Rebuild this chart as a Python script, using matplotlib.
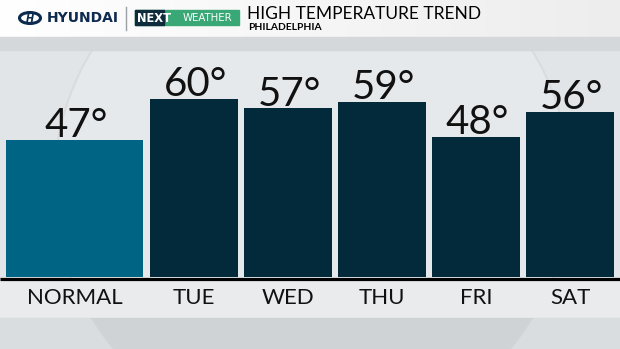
import matplotlib
matplotlib.use("Agg")
import matplotlib.pyplot as plt
from matplotlib.patches import Rectangle, Ellipse, Circle
import numpy as np

categories = ["NORMAL", "TUE", "WED", "THU", "FRI", "SAT"]
values = [47, 60, 57, 59, 48, 56]
value_labels = ["47°", "60°", "57°", "59°", "48°", "56°"]
title = "HIGH TEMPERATURE TREND"
subtitle = "PHILADELPHIA"

W, H = 620, 349
fig = plt.figure(figsize=(W / 100, H / 100), dpi=100)

# ---------- background / decoration axes (pixel coords) ----------
bg = fig.add_axes([0, 0, 1, 1])
bg.set_xlim(0, W)
bg.set_ylim(H, 0)
bg.axis("off")
bg.add_patch(Rectangle((0, 0), W, H, color="#e2e5e7", zorder=0))
# globe
bg.add_patch(Circle((312, 185), 258, facecolor="#e6e9eb", edgecolor="#d8dcde", lw=1.5, zorder=1))
# label band and lower band
bg.add_patch(Rectangle((0, 279), W, 39, color="#e9ebec", zorder=2))
bg.add_patch(Rectangle((0, 318), W, 31, color="#d9dddf", zorder=2))
lower_globe = Circle((312, 185), 258, facecolor="#cfd3d6", edgecolor="none", zorder=3)
bg.add_patch(lower_globe)
lower_globe.set_clip_path(Rectangle((0, 318), W, 31, transform=bg.transData))
# header
grad = np.linspace(1.0, 0.93, 256).reshape(1, -1)
bg.imshow(np.dstack([grad, grad, grad]), extent=(0, W, 37, 0), aspect="auto", zorder=4)
bg.add_patch(Rectangle((0, 37), W, 13, color="#d5d8da", zorder=4))
bg.set_xlim(0, W)
bg.set_ylim(H, 0)

# Hyundai logo
bg.add_patch(Ellipse((30, 18), 21, 11, facecolor="none", edgecolor="#0d2a4f", lw=2.2, zorder=5))
bg.text(30, 18.5, "H", ha="center", va="center", fontsize=7, fontweight="bold",
        style="italic", color="#0d2a4f", zorder=6, family="DejaVu Sans")
bg.text(47, 18, "HYUNDAI", ha="left", va="center", fontsize=10, fontweight="bold",
        color="#0d2a4f", zorder=6, family="DejaVu Sans")
bg.plot([126, 126], [7, 30], color="#9aa0a4", lw=1, zorder=6)
# NEXT WEATHER
bg.add_patch(Rectangle((135, 10), 104, 15, color="#3aa777", zorder=5))
bg.add_patch(Rectangle((135, 10), 29, 15, color="#0e2c3c", zorder=6))
bg.text(137.5, 18, "NEXT", ha="left", va="center", fontsize=8.3, fontweight="bold",
        color="white", zorder=7, family="DejaVu Sans")
bg.text(183, 18, "WEATHER", ha="left", va="center", fontsize=7.3,
        color="white", zorder=7, family="DejaVu Sans")
# titles
bg.text(247, 19, title, ha="left", va="baseline", fontsize=12.5, color="black",
        zorder=6, family="Lato")
bg.text(248, 30.5, subtitle, ha="left", va="baseline", fontsize=7.4, fontweight="bold",
        color="black", zorder=6, family="Lato")

# ---------- bar axes ----------
base_px = 277
px_per_deg = 3.15
y0 = 3.5
y1 = y0 + base_px / px_per_deg
ax = fig.add_axes([0, (H - base_px) / H, 1, base_px / H])
ax.patch.set_alpha(0)
ax.axis("off")
step = 94.0
xl = 1 - 194 / step
xr = 1 + (W - 194) / step
ax.set_xlim(xl, xr)
ax.set_ylim(y0, y1)

xs = [-0.27] + list(range(1, len(categories)))
widths = [1.457] + [0.926] * (len(categories) - 1)
colors = ["#006484"] + ["#032a3b"] * (len(categories) - 1)
ax.bar(xs, [v - y0 for v in values], bottom=y0, width=widths, color=colors,
       edgecolor="none", zorder=3)
for x, v, lab in zip(xs, values, value_labels):
    ax.annotate(lab, (x, v), xytext=(1.0, 2.0), textcoords="offset points",
                ha="center", va="baseline", fontsize=29, color="#111111",
                family="Lato", annotation_clip=False)
for x, c in zip(xs, categories):
    ax.annotate(c, (x, y0), xytext=(0, -19.2), textcoords="offset points",
                ha="center", va="baseline", fontsize=16, color="#111111",
                family="Lato", annotation_clip=False)
# baseline
bg.plot([0, W], [278.5, 278.5], color="black", lw=2.3, zorder=10, solid_capstyle="butt")

fig.savefig("out.png", dpi=100)
